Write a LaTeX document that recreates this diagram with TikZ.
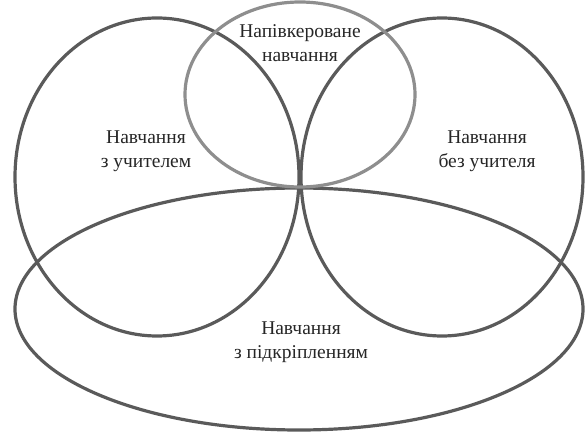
\documentclass[tikz,border=0pt]{standalone}
\usepackage{fontspec}
\setmainfont{Liberation Serif}
\definecolor{ringdark}{HTML}{5A5A5A}
\definecolor{ringlight}{HTML}{8E8E8E}
\begin{document}
\begin{tikzpicture}[x=1pt,y=1pt,font=\fontsize{19.5}{24}\selectfont,
  ring/.style={draw=ringdark,line width=3.2pt},
  lab/.style={align=center,text=black!85,inner sep=0pt}]
\useasboundingbox (0,0) rectangle (585,433);

\draw[ring] (157,256) ellipse [x radius=142, y radius=159];
\draw[ring] (442,256) ellipse [x radius=141, y radius=159];
\draw[ring] (299,124) ellipse [x radius=284, y radius=121];
\draw[ring,draw=ringlight] (300,338.5) ellipse [x radius=115, y radius=92.5];

\node[lab] (semi) at (300,390) {Напівкероване\\навчання};
\node[lab] (sup) at (146,282) {Навчання\\з учителем};
\node[lab] (unsup) at (487,282) {Навчання\\без учителя};
\node[lab] (reinf) at (301,91) {Навчання\\з підкріпленням};
\end{tikzpicture}
\end{document}
